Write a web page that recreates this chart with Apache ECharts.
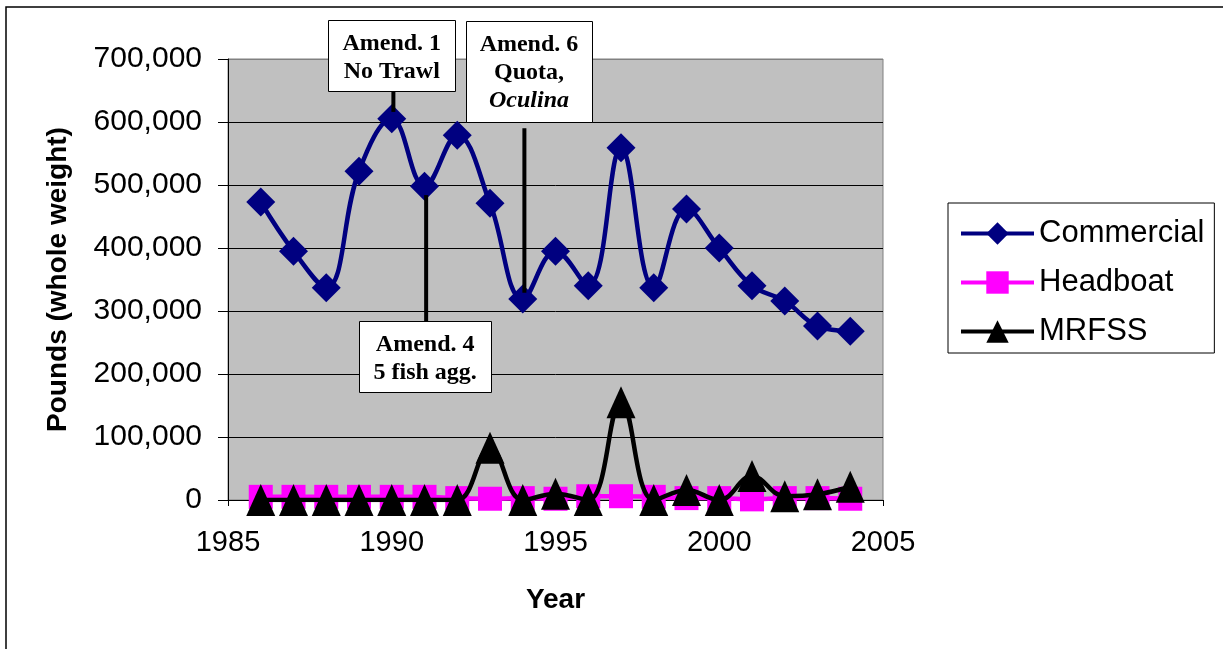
<!DOCTYPE html>
<html><head><meta charset="utf-8">
<script src="https://cdn.jsdelivr.net/npm/echarts@6/dist/echarts.min.js"></script>
<style>html,body{margin:0;padding:0;background:#fff}#c{width:1223px;height:649px}</style>
</head><body><div id="c"></div>
<script>
// ---- data ----
const years = [1986,1987,1988,1989,1990,1991,1992,1993,1994,1995,1996,1997,1998,1999,2000,2001,2002,2003,2004];
const commercial = [473000,395000,337000,522000,605000,498000,579000,471000,319000,395000,340000,559000,337000,462000,400000,340000,316000,276000,268000];
const headboat = [5000,5000,5000,5000,5000,5000,3000,2000,3000,2000,6000,6000,5000,3000,3000,1000,3000,3000,2000];
const mrfss = [0,0,0,0,0,0,0,83000,0,10000,0,155000,0,16000,0,38000,6000,9000,21000];
const seriesNames = ['Commercial','Headboat','MRFSS'];
const xTickLabels = [1985,1990,1995,2000,2005];
const yTickLabels = [0,100000,200000,300000,400000,500000,600000,700000];

// annotations: text lines, year of the pointer line, pointer line value range
const annoText = [
  ['Amend. 1','No Trawl'],
  ['Amend. 4','5 fish agg.'],
  ['Amend. 6','Quota,','Oculina']
];
const annoItalicLine = [-1,-1,2];
const annoYear = [1990.05, 1991.05, 1994.05];
const annoLineFrom = [648000, 484000, 590000];
const annoLineTo = [616000, 284000, 329000];
const annoBoxYear = [1990.0, 1991.02, 1994.19];

// ---- layout (pixels) ----
const boxW = [127, 132, 126];
const boxTop = [20, 321, 21];
const boxH = [71, 71, 101];

const chart = echarts.init(document.getElementById('c'), null, {renderer:'canvas'});
const pairs = arr => years.map((y,i)=>[y, arr[i]]);
const sans = 'Liberation Sans';

chart.setOption({
  animation:false,
  backgroundColor:'#fff',
  grid:{left:228, right:340, top:59, bottom:149, containLabel:false, show:true, backgroundColor:'#c0c0c0', borderColor:'#808080', borderWidth:1},
  xAxis:{
    type:'value', min:xTickLabels[0], max:xTickLabels[xTickLabels.length-1], interval:5,
    name:'Year', nameLocation:'middle', nameGap:86,
    nameTextStyle:{fontFamily:sans, fontWeight:'bold', fontSize:28, color:'#000'},
    axisLine:{show:true, onZero:false, lineStyle:{color:'#000', width:1}},
    axisTick:{show:true, length:6, lineStyle:{color:'#000'}},
    splitLine:{show:false},
    axisLabel:{fontFamily:sans, fontSize:29, color:'#000', margin:28, formatter:v=>String(v)}
  },
  yAxis:{
    type:'value', min:yTickLabels[0], max:yTickLabels[yTickLabels.length-1], interval:100000,
    name:'Pounds (whole weight)', nameLocation:'middle', nameGap:156,
    nameTextStyle:{fontFamily:sans, fontWeight:'bold', fontSize:28, color:'#000'},
    axisLine:{show:true, lineStyle:{color:'#000', width:1}},
    axisTick:{show:true, length:10, lineStyle:{color:'#000'}},
    splitLine:{show:true, lineStyle:{color:['#000','#000','#000','#000','#000','#000','#000','#808080'], width:1}},
    axisLabel:{fontFamily:sans, fontSize:30, color:'#000', margin:26, formatter:v=>v.toLocaleString('en-US')}
  },
  legend:{
    orient:'vertical', left:948, top:203,
    padding:[15,10,6,11], backgroundColor:'#fff', borderColor:'#000', borderWidth:1, borderRadius:0,
    itemWidth:73, itemHeight:28, itemGap:18,
    textStyle:{fontFamily:sans, fontSize:31, color:'#000', lineHeight:30},
    lineStyle:{width:4},
    data:seriesNames
  },
  series:[
    {name:seriesNames[0], type:'line', data:pairs(commercial), smooth:0.4, symbol:'diamond', symbolSize:29,
     itemStyle:{color:'#000080'}, lineStyle:{color:'#000080', width:4.5}, z:2},
    {name:seriesNames[1], type:'line', data:pairs(headboat), smooth:0.4, symbol:'rect', symbolSize:24,
     itemStyle:{color:'#ff00ff'}, lineStyle:{color:'#ff00ff', width:4.5}, z:3},
    {name:seriesNames[2], type:'line', data:pairs(mrfss), smooth:0.4, symbol:'triangle', symbolSize:[29,32],
     itemStyle:{color:'#000'}, lineStyle:{color:'#000', width:4.5}, z:4}
  ]
});

function px(x,y){ return chart.convertToPixel({gridIndex:0},[x,y]); }
const graphics = [
  {type:'rect', shape:{x:6, y:7, width:1300, height:800}, style:{fill:'none', stroke:'#000', lineWidth:1.5}, z:0, silent:true}
];
annoText.forEach((lines,i)=>{
  const a = px(annoYear[i], annoLineFrom[i]);
  const b = px(annoYear[i], annoLineTo[i]);
  graphics.push({type:'line', shape:{x1:a[0], y1:a[1], x2:b[0], y2:b[1]}, style:{stroke:'#000', lineWidth:4}, z:50});
  const cx = px(annoBoxYear[i], 0)[0];
  const left = Math.round(cx - boxW[i]/2) + 0.5;
  const top = boxTop[i] + 0.5;
  graphics.push({type:'rect', shape:{x:left, y:top, width:boxW[i], height:boxH[i]}, style:{fill:'#fff', stroke:'#000', lineWidth:1}, z:51});
  lines.forEach((t,j)=>{
    graphics.push({type:'text', x:cx, y:top + 31 + 28*j - 8, z:52,
      style:{text:t, fill:'#000', align:'center', verticalAlign:'middle',
        font:(j===annoItalicLine[i] ? 'italic ' : '') + 'bold 24px "Liberation Serif"'}});
  });
});
chart.setOption({graphic:graphics});
</script>
</body></html>
